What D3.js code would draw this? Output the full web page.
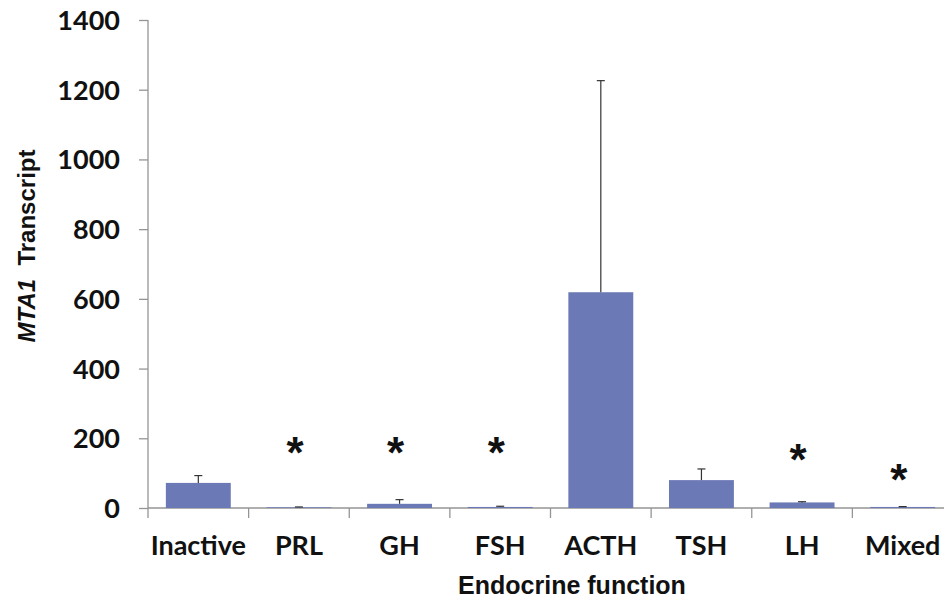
<!DOCTYPE html>
<meta charset="utf-8">
<script src="https://cdn.jsdelivr.net/npm/d3@7"></script>
<style>
body { margin: 0; background: #fff; }
.tick text { font-family: Lato, sans-serif; font-weight: bold; fill: #111; }
.axis path, .axis line { stroke: #959595; stroke-width: 1.3px; }
rect.bar { fill: #6b79b6; }
line.err { stroke: #333; stroke-width: 1.2px; }
text.star { font-family: "Liberation Sans", Arial, sans-serif; font-weight: bold; font-size: 44px; fill: #111; }
text.title { font-family: "Liberation Sans", Arial, sans-serif; font-weight: bold; fill: #111; }
</style>
<body>
<div id="chart"></div>
<script>
// values
var categories = ["Inactive", "PRL", "GH", "FSH", "ACTH", "TSH", "LH", "Mixed"];
var means = [72, 2, 12, 3, 619, 80, 16, 3];
var errors = [21, 1, 12, 2, 607, 32, 2, 1];
// asterisk heights, in transcript units (null = no mark)
var stars = [null, 178, 178, 178, null, null, 157, 100];
var yTicks = [0, 200, 400, 600, 800, 1000, 1200, 1400];

var width = 944,
    height = 603;

var svg = d3.select("#chart").append("svg")
    .attr("width", width)
    .attr("height", height);

var x = d3.scaleBand()
    .domain(categories)
    .range([148, 953])
    .paddingInner(0.355)
    .paddingOuter(0.1775);

var y = d3.scaleLinear()
    .domain([0, 1400])
    .range([508, 20]);

// y axis
var yAxis = svg.append("g")
    .attr("class", "axis")
    .attr("transform", "translate(148,0)")
    .call(d3.axisLeft(y).tickValues(yTicks).tickSize(9).tickPadding(19).tickFormat(d3.format("d")));
yAxis.selectAll(".tick text").style("font-size", "27px").attr("dy", "0.35em");
yAxis.select(".domain").attr("d", "M0," + y(1400) + "V" + y(0));

// x axis: ticks between categories, like the original
var xAxis = svg.append("g")
    .attr("class", "axis")
    .attr("transform", "translate(0," + y(0) + ")");
xAxis.append("line")
    .attr("x1", 148).attr("x2", 953);
var step = x.step();
xAxis.selectAll("line.sep")
    .data(d3.range(categories.length + 1))
    .enter().append("line")
    .attr("class", "sep")
    .attr("x1", function(i) { return 148 + i * (805 / categories.length); })
    .attr("x2", function(i) { return 148 + i * (805 / categories.length); })
    .attr("y1", 0).attr("y2", 10);
xAxis.selectAll("text")
    .data(categories)
    .enter().append("text")
    .attr("class", "title")
    .attr("x", function(d) { return x(d) + x.bandwidth() / 2; })
    .attr("y", 47)
    .attr("text-anchor", "middle")
    .style("font-family", "Lato, sans-serif")
    .style("font-size", "27px")
    .text(function(d) { return d; });

// error bars (upper only)
var eb = svg.append("g");
categories.forEach(function(c, i) {
    var cx = x(c) + x.bandwidth() / 2;
    eb.append("line").attr("class", "err")
        .attr("x1", cx).attr("x2", cx)
        .attr("y1", y(means[i])).attr("y2", y(means[i] + errors[i]));
    eb.append("line").attr("class", "err")
        .attr("x1", cx - 4).attr("x2", cx + 4)
        .attr("y1", y(means[i] + errors[i])).attr("y2", y(means[i] + errors[i]));
});

// bars
svg.append("g")
    .selectAll("rect")
    .data(categories)
    .enter().append("rect")
    .attr("class", "bar")
    .attr("x", function(d) { return x(d); })
    .attr("width", x.bandwidth())
    .attr("y", function(d, i) { return y(means[i]); })
    .attr("height", function(d, i) { return y(0) - y(means[i]); });

// redraw error stems above bars
eb.raise();

// significance marks
svg.append("g")
    .selectAll("text")
    .data(categories.filter(function(c, i) { return stars[i] !== null; }))
    .enter().append("text")
    .attr("class", "star")
    .attr("text-anchor", "middle")
    .attr("x", function(d) { return x(d) + x.bandwidth() / 2 - 4; })
    .attr("y", function(d) { return y(stars[categories.indexOf(d)]) + 22; })
    .text("*");

// axis titles
svg.append("text")
    .attr("class", "title")
    .attr("x", 572)
    .attr("y", 594)
    .attr("text-anchor", "middle")
    .style("font-size", "25px")
    .text("Endocrine function");

var yt = svg.append("text")
    .attr("class", "title")
    .attr("transform", "translate(35,246) rotate(-90)")
    .attr("text-anchor", "middle")
    .style("font-size", "24px");
yt.append("tspan").style("font-style", "italic").text("MTA1");
yt.append("tspan").text("\u00a0 Transcript");
</script>
</body>
